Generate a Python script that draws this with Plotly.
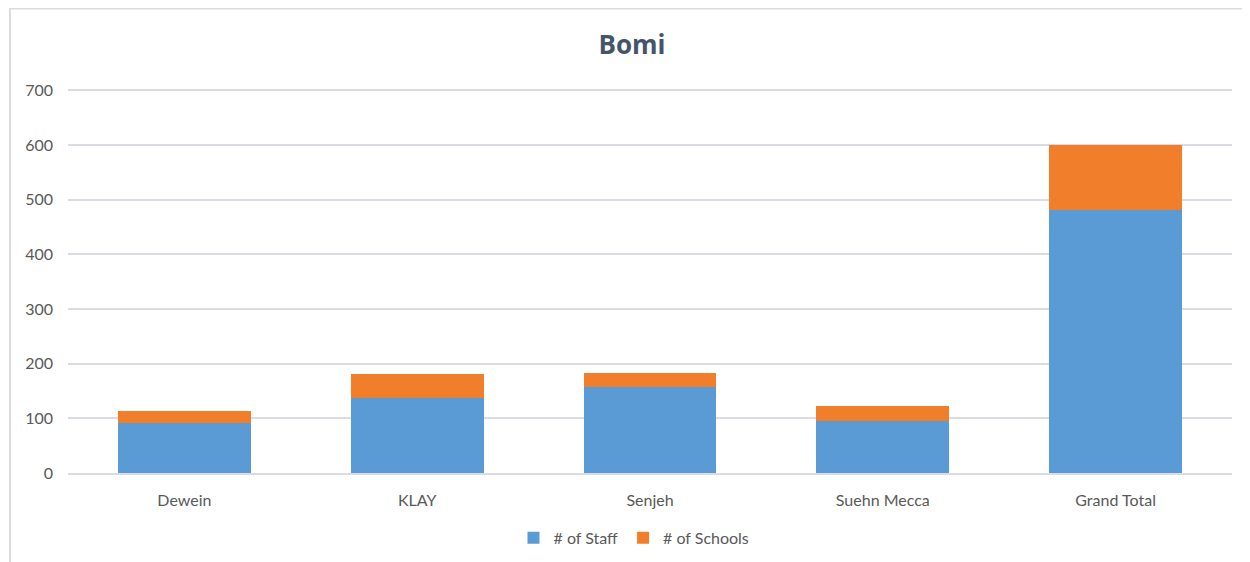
import plotly.graph_objects as go

# data
regions = ["Dewein", "KLAY", "Senjeh", "Suehn Mecca", "Grand Total"]
staff = [91, 138, 157, 95, 481]
schools = [23, 43, 26, 27, 120]

# the page adds an 8px body margin, so work in shifted coordinates
OFF = 8
W, H = 1250 - OFF, 562 - OFF
YMAX = 710
base_px, top700_px = 473, 90
px_per_unit = (base_px - top700_px) / 700
ph = YMAX * px_per_unit
pw = 1232 - 68
L, T = 68 - OFF, base_px - ph - OFF
R, B = W - L - pw, H - T - ph

fig = go.Figure()
fig.add_trace(go.Bar(x=regions, y=staff, name="# of Staff", marker=dict(color="#5B9BD5", line=dict(width=0))))
fig.add_trace(go.Bar(x=regions, y=schools, name="# of Schools", marker=dict(color="#F07E2B", line=dict(width=0))))

# outer chart-area border (only left and top edges visible in the reference)
fig.add_shape(type="rect", xref="paper", yref="paper",
              x0=(10 - 68) / pw, x1=(1290 - 68) / pw,
              y0=-(600 - base_px) / ph, y1=(base_px - 8) / ph,
              line=dict(color="#D9DDE3", width=2), layer="below")

fig.update_layout(
    width=W, height=H,
    margin=dict(l=L, r=R, t=T, b=B, autoexpand=False),
    barmode="stack", bargap=0.43,
    plot_bgcolor="white", paper_bgcolor="white",
    font=dict(family="Lato", size=16, color="#595959"),
    title=dict(text="<b>Bomi</b>", x=(632 - OFF) / W, xref="container", xanchor="center",
               y=1 - (45 - OFF) / H, yref="container", yanchor="middle",
               font=dict(family="Open Sans", size=26, color="#44546A")),
    legend=dict(orientation="h", x=(634 - 68) / pw, xanchor="center",
                y=-(538 - base_px) / ph, yanchor="middle", itemwidth=30,
                font=dict(size=16, color="#595959"), traceorder="normal"),
    yaxis=dict(range=[0, YMAX], tickvals=[0, 100, 200, 300, 400, 500, 600, 700],
               showgrid=True, gridcolor="#D9DDE3", gridwidth=1.5, automargin=False,
               zeroline=False, showline=False, ticklabelstandoff=14),
    xaxis=dict(showline=True, linecolor="#D9DDE3", linewidth=1.5, ticks="", automargin=False,
               ticklabelstandoff=12),
)

fig.write_html("out.html")
